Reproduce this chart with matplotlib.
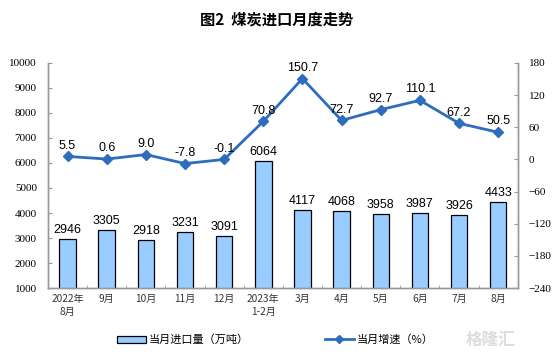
import numpy as np
import matplotlib.pyplot as plt
from matplotlib.lines import Line2D
from matplotlib.patches import Patch

plt.rcParams['font.family'] = ['Noto Sans CJK SC', 'DejaVu Sans']

months = ['2022年\n8月', '9月', '10月', '11月', '12月', '2023年\n1-2月',
          '3月', '4月', '5月', '6月', '7月', '8月']
imports = [2946, 3305, 2918, 3231, 3091, 6064, 4117, 4068, 3958, 3987, 3926, 4433]
growth = [5.5, 0.6, 9.0, -7.8, -0.1, 70.8, 150.7, 72.7, 92.7, 110.1, 67.2, 50.5]

bar_color = '#99CCFF'
line_color = '#2E6DBE'

fig = plt.figure(figsize=(5.54, 3.57), dpi=100)
ax = fig.add_axes([0.0866, 0.193, 0.848, 0.631])
x = np.arange(len(months))

# bars - monthly imports (10k tons)
ax.bar(x, imports, width=0.42, color=bar_color, edgecolor='black', linewidth=0.9, zorder=2)
ax.set_ylim(1000, 10000)
ax.set_xlim(-0.5, len(months) - 0.5)
ax.set_yticks(range(1000, 10001, 1000))
for xi, v in zip(x, imports):
    ax.text(xi, v + 120, str(v), ha='center', va='bottom', fontsize=9,
            family='Liberation Sans', zorder=5)

# line - yoy growth (%)
ax2 = ax.twinx()
ax2.plot(x, growth, color=line_color, lw=2, marker='D', ms=5, zorder=3)
ax2.set_ylim(-240, 180)
ax2.set_yticks(range(-240, 181, 60))
for xi, v in zip(x, growth):
    ax2.text(xi, v + 9, f'{v:.1f}', ha='center', va='bottom', fontsize=9,
             family='Liberation Sans')

ax.set_xticks(x)
ax.set_xticklabels(months, fontsize=7.3, color='#333333', linespacing=1.4)
ax.set_xticks(np.arange(-0.5, len(months), 1), minor=True)
ax.tick_params(axis='x', which='major', length=0, pad=4)
ax.tick_params(axis='x', which='minor', length=2.5, direction='in', color='#999999')

ax.tick_params(axis='y', direction='in', length=3, color='#999999', labelsize=8, pad=8)
ax2.tick_params(axis='y', direction='in', length=3, color='#999999', labelsize=8, pad=8)
for lab in ax.get_yticklabels() + ax2.get_yticklabels():
    lab.set_family('Liberation Serif')

for a in (ax, ax2):
    a.spines['top'].set_visible(False)
    for s in ('left', 'right', 'bottom'):
        a.spines[s].set_color('#999999')
        a.spines[s].set_linewidth(1)

fig.text(0.5, 0.945, '图2  煤炭进口月度走势', ha='center', va='center',
         fontsize=11, fontweight='bold')

h1 = Patch(facecolor=bar_color, edgecolor='black', linewidth=0.9)
h2 = Line2D([0], [0], color=line_color, lw=2, marker='D', ms=4)
fig.legend([h1], ['当月进口量（万吨）'], loc='center', bbox_to_anchor=(0.33, 0.048),
           frameon=False, fontsize=8, handlelength=2.6, handleheight=0.6, handletextpad=0.3)
fig.legend([h2], ['当月增速（%）'], loc='center', bbox_to_anchor=(0.685, 0.048),
           frameon=False, fontsize=8, handlelength=2.6, handletextpad=0.3)

# watermark
fig.text(0.885, 0.048, '格隆汇', ha='center', va='center', fontsize=12,
         color='#dddddd', fontweight='bold')

fig.savefig('out.png', dpi=100)
